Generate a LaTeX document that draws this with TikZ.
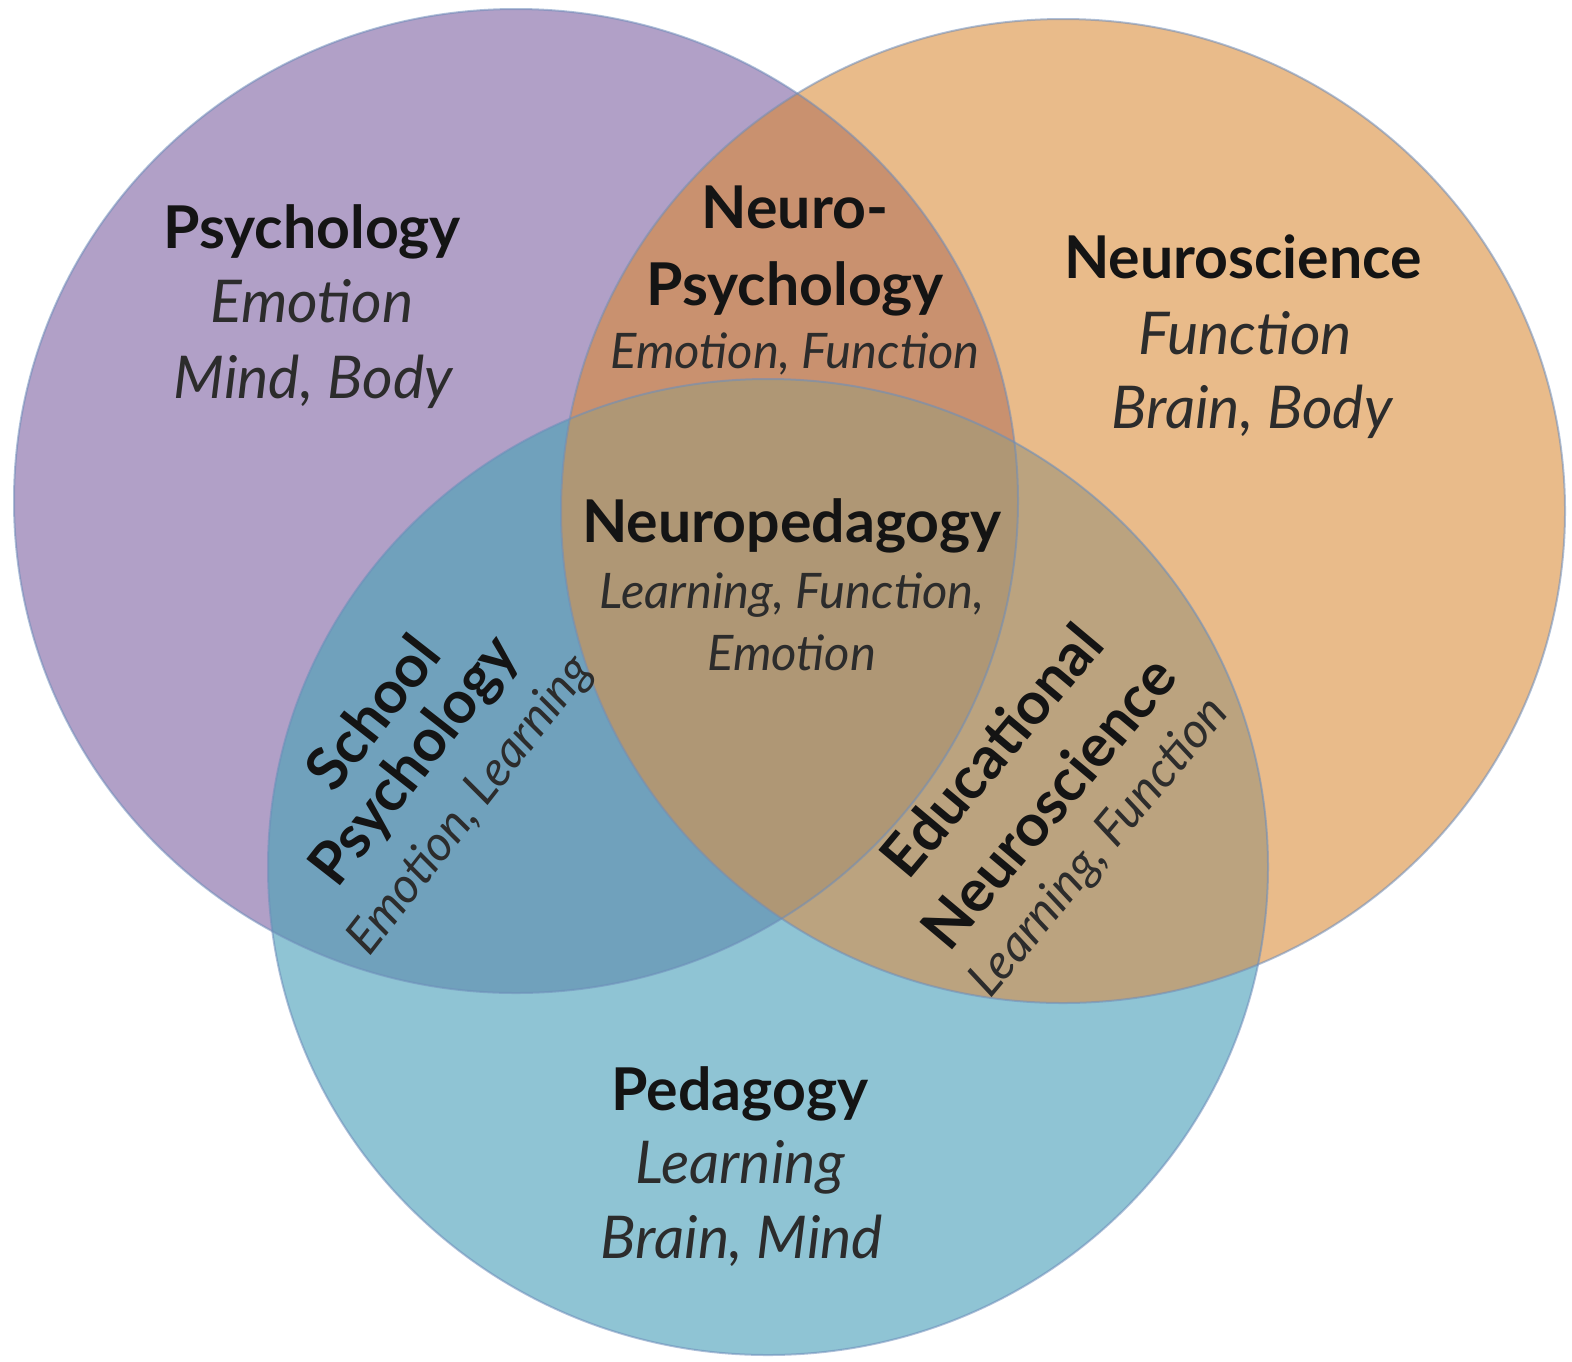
\documentclass[tikz,border=0pt]{standalone}
\usepackage{fontspec}
\setmainfont{Lato}
\definecolor{cP}{HTML}{B1A0C7}
\definecolor{cO}{HTML}{E9BB8A}
\definecolor{cB}{HTML}{8FC4D4}
\definecolor{cPO}{HTML}{C9916F}
\definecolor{cPB}{HTML}{70A1BC}
\definecolor{cOB}{HTML}{BBA37F}
\definecolor{cPOB}{HTML}{AF9775}
\definecolor{rimc}{HTML}{6E8DBA}
\definecolor{txt}{HTML}{141414}
\begin{document}
\begin{tikzpicture}[x=0.5pt,y=-0.5pt,
  title/.style={font=\fontsize{29.5}{34}\selectfont\bfseries, text=txt, anchor=base, inner sep=0pt},
  sub/.style={font=\fontsize{29.5}{34}\selectfont\itshape, text=txt!90!white, anchor=base, inner sep=0pt},
  subsmall/.style={font=\fontsize{24.5}{28}\selectfont\itshape, text=txt!90!white, anchor=base, inner sep=0pt},
  rtitle/.style={font=\fontsize{29.5}{34}\selectfont\bfseries, text=txt, inner sep=0pt},
  rsub/.style={font=\fontsize{24.5}{28}\selectfont\itshape, text=txt!90!white, inner sep=0pt},
  rim/.style={draw=rimc, line width=1pt}]
\useasboundingbox (0,0) rectangle (1572,1361);
% base fills
\fill[cP] (516,501) ellipse [x radius=251pt, y radius=246pt];
\fill[cO] (1063,511) ellipse [x radius=251pt, y radius=246pt];
\fill[cB] (768,867) ellipse [x radius=250pt, y radius=244pt];
% pairwise overlaps
\begin{scope}
  \clip (516,501) ellipse [x radius=251pt, y radius=246pt];
  \fill[cPO] (1063,511) ellipse [x radius=251pt, y radius=246pt];
  \fill[cPB] (768,867) ellipse [x radius=250pt, y radius=244pt];
\end{scope}
\begin{scope}
  \clip (1063,511) ellipse [x radius=251pt, y radius=246pt];
  \fill[cOB] (768,867) ellipse [x radius=250pt, y radius=244pt];
\end{scope}
\begin{scope}
  \clip (516,501) ellipse [x radius=251pt, y radius=246pt];
  \clip (1063,511) ellipse [x radius=251pt, y radius=246pt];
  \fill[cPOB] (768,867) ellipse [x radius=250pt, y radius=244pt];
\end{scope}
% outlines
\draw[rim, opacity=0.55] (516,501) ellipse [x radius=251pt, y radius=246pt];
\draw[rim, opacity=0.55] (768,867) ellipse [x radius=250pt, y radius=244pt];
\draw[rim, opacity=0.55] (1063,511) ellipse [x radius=251pt, y radius=246pt];

% Psychology
\node[title] (psyT) at (312,248) {Psychology};
\node[sub] (psy1) at (312,322) {Emotion};
\node[sub] (psy2) at (313,398) {Mind, Body};
% Neuro-Psychology
\node[title] (npT1) at (795,228) {Neuro-};
\node[title] (npT2) at (795,305) {Psychology};
\node[subsmall] (np1) at (795,368) {Emotion, Function};
% Neuroscience
\node[title] (nsT) at (1243,278) {Neuroscience};
\node[sub] (ns1) at (1245,354) {Function};
\node[sub] (ns2) at (1252,428) {Brain, Body};
% Neuropedagogy
\node[title] (npgT) at (792,542) {Neuropedagogy};
\node[subsmall] (npg1) at (792,608) {Learning, Function,};
\node[subsmall] (npg2) at (792,670) {Emotion};
% Pedagogy
\node[title] (pedT) at (740,1110) {Pedagogy};
\node[sub] (ped1) at (740,1183) {Learning};
\node[sub] (ped2) at (742,1258) {Brain, Mind};
% School Psychology
\node[rtitle, rotate=52] (sp1) at (372,712) {School};
\node[rtitle, rotate=52] (sp2) at (416,762) {Psychology};
\node[rsub, rotate=52] (sp3) at (471,806) {Emotion, Learning};
% Educational Neuroscience
\node[rtitle, rotate=50] (en1) at (991,750) {Educational};
\node[rtitle, rotate=50] (en2) at (1048,802) {Neuroscience};
\node[rsub, rotate=50] (en3) at (1100,848) {Learning, Function};
\end{tikzpicture}
\end{document}
